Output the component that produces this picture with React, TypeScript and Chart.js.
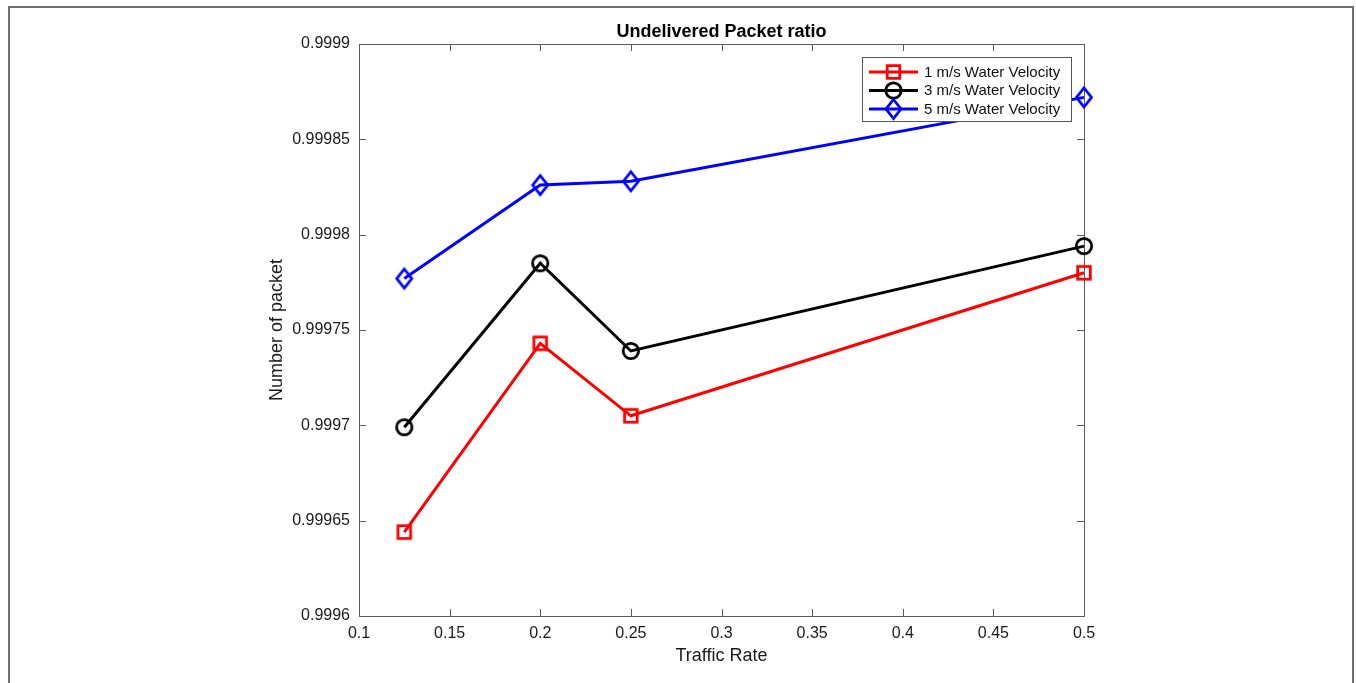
import React, { useEffect, useRef } from 'react';
import { Chart, registerables } from 'chart.js';

Chart.register(...registerables);

const trafficRates = [0.125, 0.2, 0.25, 0.5];
const velocity1 = [0.999644, 0.999743, 0.999705, 0.99978];
const velocity3 = [0.999699, 0.999785, 0.999739, 0.999794];
const velocity5 = [0.999777, 0.999826, 0.999828, 0.999872];
const seriesLabels = ['1 m/s Water Velocity', '3 m/s Water Velocity', '5 m/s Water Velocity'];
const seriesColors = ['#ff0000', '#000000', '#0000ff'];
const seriesMarkers = ['square', 'circle', 'diamond'];
const xTicks = [0.1, 0.15, 0.2, 0.25, 0.3, 0.35, 0.4, 0.45, 0.5];
const xTickLabels = ['0.1', '0.15', '0.2', '0.25', '0.3', '0.35', '0.4', '0.45', '0.5'];
const yTicks = [0.9996, 0.99965, 0.9997, 0.99975, 0.9998, 0.99985, 0.9999];
const yTickLabels = ['0.9996', '0.99965', '0.9997', '0.99975', '0.9998', '0.99985', '0.9999'];
const chartTitle = 'Undelivered Packet ratio';
const xTitle = 'Traffic Rate';
const yTitle = 'Number of packet';

const FONT = "'Liberation Sans', Arial, Helvetica, sans-serif";
const LINE_W = 3;

function drawMarker(ctx: CanvasRenderingContext2D, kind: string, x: number, y: number, color: string) {
  ctx.save();
  ctx.strokeStyle = color;
  ctx.lineWidth = 2.8;
  ctx.beginPath();
  if (kind === 'square') {
    ctx.rect(x - 6.3, y - 6.3, 12.6, 12.6);
  } else if (kind === 'circle') {
    ctx.arc(x, y, 7.7, 0, Math.PI * 2);
  } else {
    ctx.moveTo(x, y - 9.5);
    ctx.lineTo(x + 7.5, y);
    ctx.lineTo(x, y + 9.5);
    ctx.lineTo(x - 7.5, y);
    ctx.closePath();
  }
  ctx.stroke();
  ctx.restore();
}

function makeMarkerImage(kind: string, color: string): HTMLCanvasElement {
  const c = document.createElement('canvas');
  c.width = 26;
  c.height = 26;
  const ctx = c.getContext('2d')!;
  drawMarker(ctx, kind, 13, 13, color);
  return c;
}

const matlabAxes = {
  id: 'matlabAxes',
  beforeDatasetsDraw(chart: any) {
    const { ctx, chartArea, scales } = chart;
    const { left, right, top, bottom } = chartArea;
    ctx.save();
    ctx.strokeStyle = '#5c5c5c';
    ctx.lineWidth = 1;
    ctx.beginPath();
    xTicks.forEach((v) => {
      const px = Math.round(scales.x.getPixelForValue(v)) + 0.5;
      ctx.moveTo(px, bottom);
      ctx.lineTo(px, bottom - 7);
      ctx.moveTo(px, top);
      ctx.lineTo(px, top + 7);
    });
    yTicks.forEach((v) => {
      const py = Math.round(scales.y.getPixelForValue(v)) + 0.5;
      ctx.moveTo(left, py);
      ctx.lineTo(left + 7, py);
      ctx.moveTo(right, py);
      ctx.lineTo(right - 7, py);
    });
    ctx.stroke();
    ctx.strokeRect(left + 0.5, top + 0.5, right - left, bottom - top);
    ctx.restore();
  },
};

const boxedLegend = {
  id: 'boxedLegend',
  afterDraw(chart: any) {
    const { ctx, chartArea } = chart;
    const bw = 209;
    const bh = 64;
    const bx = chartArea.right - 13 - bw;
    const by = chartArea.top + 13;
    ctx.save();
    ctx.fillStyle = '#ffffff';
    ctx.fillRect(bx, by, bw, bh);
    ctx.strokeStyle = '#555555';
    ctx.lineWidth = 1;
    ctx.strokeRect(bx + 0.5, by + 0.5, bw, bh);
    chart.data.datasets.forEach((ds: any, i: number) => {
      const y = by + 15 + i * 18.5;
      ctx.strokeStyle = seriesColors[i];
      ctx.lineWidth = LINE_W;
      ctx.beginPath();
      ctx.moveTo(bx + 7, y);
      ctx.lineTo(bx + 56, y);
      ctx.stroke();
      drawMarker(ctx, seriesMarkers[i], bx + 31.5, y, seriesColors[i]);
      ctx.fillStyle = '#111111';
      ctx.font = `15px ${FONT}`;
      ctx.textAlign = 'left';
      ctx.textBaseline = 'middle';
      ctx.fillText(ds.label, bx + 62, y + 0.5);
    });
    ctx.restore();
  },
};

function labelFor(values: number[], labels: string[], v: number) {
  const i = values.findIndex((t) => Math.abs(t - v) < 1e-9);
  return i >= 0 ? labels[i] : '';
}

export default function App() {
  const ref = useRef<HTMLCanvasElement>(null);

  useEffect(() => {
    if (!ref.current) return;
    const series = [velocity1, velocity3, velocity5];
    const datasets = series.map((vals, i) => ({
      label: seriesLabels[i],
      data: trafficRates.map((x, j) => ({ x, y: vals[j] })),
      borderColor: seriesColors[i],
      backgroundColor: seriesColors[i],
      borderWidth: LINE_W,
      pointStyle: makeMarkerImage(seriesMarkers[i], seriesColors[i]),
      pointRadius: 8,
      tension: 0,
      fill: false,
      clip: false as any,
    }));

    const chart = new Chart(ref.current, {
      type: 'line',
      data: { datasets },
      options: {
        animation: false,
        responsive: false,
        events: [],
        layout: { padding: { left: 266, right: 272, top: 0, bottom: 0 } },
        plugins: {
          legend: { display: false },
          tooltip: { enabled: false },
        },
        scales: {
          x: {
            type: 'linear',
            position: 'bottom',
            min: 0.1,
            max: 0.5,
            afterBuildTicks: (s: any) => {
              s.ticks = xTicks.map((v) => ({ value: v }));
            },
            afterFit: (s: any) => {
              s.height = 67;
            },
            grid: { display: false, drawTicks: false },
            border: { display: false },
            ticks: {
              padding: 8,
              maxRotation: 0,
              autoSkip: false,
              color: '#1a1a1a',
              font: { size: 16, family: FONT },
              callback: (v: any) => labelFor(xTicks, xTickLabels, Number(v)),
            },
            title: {
              display: true,
              text: xTitle,
              color: '#1a1a1a',
              font: { size: 18, family: FONT },
              padding: { top: 0, bottom: 16 },
            },
          },
          top: {
            type: 'linear',
            position: 'top',
            min: 0.1,
            max: 0.5,
            afterFit: (s: any) => {
              s.height = 44;
            },
            grid: { display: false, drawTicks: false },
            border: { display: false },
            ticks: { display: false },
            title: {
              display: true,
              text: chartTitle,
              color: '#000000',
              font: { size: 18, weight: 'bold', family: FONT },
              padding: { top: 21, bottom: 0 },
            },
          },
          y: {
            type: 'linear',
            position: 'left',
            min: 0.9996,
            max: 0.9999,
            afterBuildTicks: (s: any) => {
              s.ticks = yTicks.map((v) => ({ value: v }));
            },
            afterFit: (s: any) => {
              s.width = 93;
            },
            grid: { display: false, drawTicks: false },
            border: { display: false },
            ticks: {
              padding: 9,
              color: '#1a1a1a',
              font: { size: 16, family: FONT },
              callback: (v: any) => labelFor(yTicks, yTickLabels, Number(v)),
            },
            title: {
              display: true,
              text: yTitle,
              color: '#1a1a1a',
              font: { size: 18, family: FONT },
              padding: { top: 0, bottom: 0 },
            },
          },
        },
      } as any,
      plugins: [matlabAxes, boxedLegend],
    });

    return () => chart.destroy();
  }, []);

  return (
    <div
      style={{
        position: 'absolute',
        left: 0,
        top: 0,
        width: 1356,
        height: 683,
        overflow: 'hidden',
        background: '#ffffff',
      }}
    >
      <canvas ref={ref} width={1356} height={683} style={{ display: 'block', width: 1356, height: 683 }} />
      <div
        style={{
          position: 'absolute',
          left: 8,
          top: 6,
          width: 1346,
          height: 700,
          border: '2px solid #6e6e6e',
          boxSizing: 'border-box',
          pointerEvents: 'none',
        }}
      />
    </div>
  );
}
